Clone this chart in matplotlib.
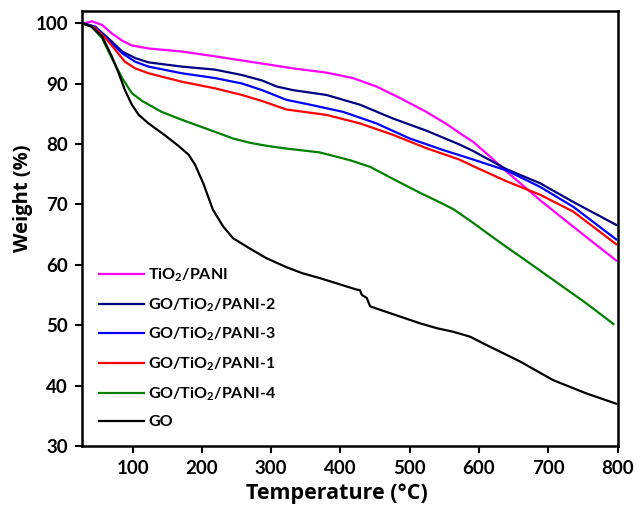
import matplotlib
matplotlib.use("Agg")
import matplotlib.pyplot as plt

plt.rcParams['font.family'] = ['Lato', 'DejaVu Sans']
plt.rcParams['font.weight'] = 'bold'
plt.rcParams['mathtext.fontset'] = 'custom'
plt.rcParams['mathtext.bf'] = 'Lato:bold'
plt.rcParams['mathtext.rm'] = 'Lato:bold'
plt.rcParams['mathtext.default'] = 'bf'

# ---------------- data ----------------
t_tio2 = [27, 41, 56, 70, 85, 99, 123, 171, 219, 287, 332, 380, 418, 452, 486, 524, 553,
          572, 592, 615, 640, 688, 736, 798]
w_tio2 = [99.8, 100.3, 99.7, 98.3, 97.1, 96.3, 95.8, 95.3, 94.5, 93.3, 92.5, 91.8, 90.9, 89.5,
          87.6, 85.3, 83.3, 81.8, 80.3, 78.0, 75.4, 70.7, 66.3, 60.7]

t_p2 = [27, 46, 65, 85, 104, 123, 171, 219, 258, 287, 308, 332, 380, 428, 476, 524, 572,
        592, 640, 688, 736, 798]
w_p2 = [100, 99.4, 97.5, 95.3, 94.2, 93.5, 92.8, 92.3, 91.4, 90.5, 89.5, 88.9, 88.1, 86.5,
        84.2, 82.2, 79.9, 78.8, 75.8, 73.5, 70.4, 66.6]

t_p3 = [27, 46, 65, 85, 104, 123, 171, 219, 258, 287, 322, 356, 404, 452, 500, 548, 592,
        640, 688, 736, 798]
w_p3 = [100, 99.4, 97.2, 95.0, 93.6, 92.8, 91.7, 90.9, 90.0, 88.9, 87.3, 86.5, 85.3, 83.4,
        80.9, 79.0, 77.4, 75.6, 72.9, 69.6, 64.2]

t_p1 = [27, 46, 61, 75, 89, 104, 123, 171, 219, 258, 287, 322, 380, 428, 476, 524, 572,
        592, 640, 688, 736, 798]
w_p1 = [100, 99.2, 97.5, 95.6, 93.6, 92.5, 91.7, 90.3, 89.2, 88.1, 87.1, 85.7, 84.8, 83.4,
        81.5, 79.3, 77.4, 76.3, 73.8, 71.6, 68.8, 63.4]

t_p4 = [27, 41, 56, 70, 85, 99, 114, 142, 171, 219, 245, 269, 293, 317, 370, 414, 443, 476,
        515, 544, 563, 592, 611, 640, 664, 707, 755, 794]
w_p4 = [100, 99.4, 97.5, 94.2, 90.9, 88.4, 87.1, 85.3, 84.0, 82.0, 80.9, 80.2, 79.7, 79.3,
        78.6, 77.3, 76.2, 74.2, 71.9, 70.3, 69.2, 66.9, 65.3, 62.9, 61.0, 57.5, 53.6, 50.2]

t_go = [27, 41, 56, 70, 80, 89, 99, 109, 123, 147, 166, 181, 190, 202, 216, 231, 245, 269,
        293, 322, 345, 370, 423, 428, 431, 438, 443, 515, 539, 563, 587, 611, 659, 707, 731,
        755, 798]
w_go = [100, 99.4, 97.8, 94.5, 91.7, 88.9, 86.5, 84.8, 83.4, 81.4, 79.7, 78.2, 76.6, 73.5,
        69.1, 66.3, 64.4, 62.7, 61.1, 59.6, 58.6, 57.8, 55.9, 55.8, 55.0, 54.5, 53.1, 50.3,
        49.5, 48.9, 48.1, 46.7, 44.0, 40.9, 39.8, 38.7, 37.0]

series = [
    ("TiO$_2$/PANI", t_tio2, w_tio2, "#ff00ff"),
    ("GO/TiO$_2$/PANI-2", t_p2, w_p2, "#000080"),
    ("GO/TiO$_2$/PANI-3", t_p3, w_p3, "#0000ff"),
    ("GO/TiO$_2$/PANI-1", t_p1, w_p1, "#ff0000"),
    ("GO/TiO$_2$/PANI-4", t_p4, w_p4, "#008000"),
    ("GO", t_go, w_go, "#000000"),
]

# ---------------- plot ----------------
fig = plt.figure(figsize=(6.38, 5.15), dpi=100)
ax = fig.add_axes([0.1285, 0.134, 0.8395, 0.8446])

for lab, t, w, c in series:
    ax.plot(t, w, color=c, lw=1.6, label=lab, solid_joinstyle='round')

ax.set_xlim(27, 800)
ax.set_ylim(30, 102)
ax.set_xticks(range(100, 801, 100))
ax.set_yticks(range(30, 101, 10))
ax.tick_params(direction='out', length=5, width=1.5, labelsize=13.5, pad=5)
for s in ax.spines.values():
    s.set_linewidth(1.8)

ax.set_xlabel("Temperature (°C)", fontsize=15.5, fontweight='bold', family='Open Sans')
ax.set_ylabel("Weight (%)", fontsize=14.5, fontweight='bold', family='Open Sans')
ax.xaxis.set_label_coords(0.476, -0.086)
ax.yaxis.set_label_coords(-0.092, 0.57)

leg = ax.legend(loc='lower left', bbox_to_anchor=(0.0, 0.0), frameon=False,
                fontsize=11.5, handlelength=2.85, labelspacing=0.77, handletextpad=0.25,
                borderaxespad=0.65)

fig.savefig("out.png", dpi=100)
